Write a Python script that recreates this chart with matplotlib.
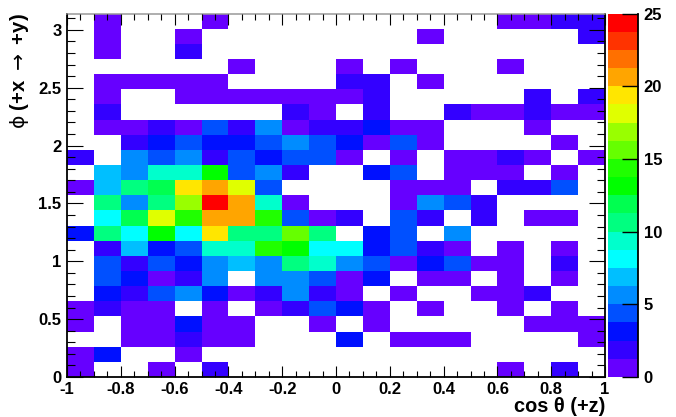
import numpy as np
import matplotlib
matplotlib.use("Agg")
import matplotlib.pyplot as plt
from matplotlib.colors import BoundaryNorm, ListedColormap
from matplotlib.ticker import MultipleLocator

plt.rcParams["font.family"] = ["Liberation Sans", "DejaVu Sans"]
plt.rcParams["mathtext.fontset"] = "dejavusans"

# bin edges of the histogram
x_edges = np.linspace(-1, 1, 21)
y_edges = np.linspace(0, np.pi, 25)

# counts per bin, first list is the top row of the picture
counts = [
    [0, 1, 0, 0, 0, 1, 0, 0, 0, 0, 0, 0, 0, 0, 0, 0, 1, 1, 2, 2],
    [0, 1, 0, 0, 1, 0, 0, 0, 0, 0, 0, 0, 0, 1, 0, 0, 0, 0, 0, 2],
    [0, 1, 0, 0, 2, 0, 0, 0, 0, 0, 0, 0, 0, 0, 0, 0, 0, 0, 0, 0],
    [0, 0, 0, 0, 0, 0, 1, 0, 0, 0, 1, 0, 1, 0, 0, 0, 1, 0, 0, 0],
    [0, 1, 1, 1, 1, 1, 0, 0, 0, 0, 2, 2, 0, 1, 0, 0, 0, 0, 0, 0],
    [0, 1, 0, 0, 1, 1, 1, 1, 1, 1, 1, 2, 0, 0, 0, 0, 0, 2, 0, 2],
    [0, 2, 0, 0, 0, 0, 0, 0, 2, 1, 0, 2, 0, 0, 2, 1, 1, 2, 1, 1],
    [0, 1, 1, 2, 1, 4, 2, 5, 1, 2, 2, 3, 1, 1, 0, 0, 0, 1, 0, 0],
    [0, 0, 2, 3, 4, 3, 3, 4, 5, 4, 3, 1, 4, 1, 0, 0, 0, 0, 1, 0],
    [2, 0, 5, 4, 5, 2, 4, 3, 4, 4, 1, 0, 1, 0, 1, 1, 2, 1, 0, 1],
    [0, 7, 5, 9, 9, 13, 4, 5, 2, 0, 0, 3, 4, 0, 1, 1, 1, 0, 1, 0],
    [1, 7, 10, 12, 19, 20, 18, 4, 0, 0, 0, 0, 1, 1, 1, 0, 2, 2, 4, 0],
    [0, 10, 5, 10, 17, 24, 20, 9, 1, 0, 0, 0, 1, 5, 4, 2, 0, 0, 0, 0],
    [0, 8, 12, 18, 14, 20, 20, 14, 4, 1, 2, 0, 4, 2, 0, 2, 0, 1, 1, 0],
    [3, 10, 8, 13, 8, 19, 10, 10, 15, 10, 0, 3, 4, 0, 5, 0, 0, 0, 0, 0],
    [0, 2, 7, 3, 4, 9, 9, 14, 13, 8, 8, 3, 4, 2, 1, 0, 1, 0, 1, 0],
    [0, 4, 2, 4, 3, 5, 7, 5, 10, 9, 5, 4, 1, 3, 4, 1, 1, 0, 2, 0],
    [0, 4, 3, 1, 2, 5, 0, 5, 5, 4, 1, 3, 0, 1, 1, 0, 1, 0, 1, 0],
    [0, 3, 2, 4, 5, 3, 1, 2, 5, 2, 1, 0, 1, 0, 0, 1, 1, 2, 0, 0],
    [1, 2, 1, 1, 0, 1, 0, 1, 2, 4, 3, 1, 0, 1, 0, 0, 1, 0, 1, 0],
    [1, 0, 1, 1, 3, 1, 1, 0, 0, 1, 0, 1, 0, 0, 0, 0, 0, 1, 1, 1],
    [0, 0, 1, 1, 2, 1, 1, 0, 0, 0, 3, 0, 1, 1, 1, 0, 0, 0, 0, 1],
    [1, 3, 0, 0, 1, 0, 0, 0, 0, 0, 0, 0, 0, 0, 0, 0, 0, 0, 0, 0],
    [1, 0, 0, 1, 0, 2, 0, 0, 0, 0, 0, 0, 0, 0, 0, 0, 1, 0, 2, 0],
]

# palette bands, bottom to top of the colour bar
palette = [
    "#6600ff", "#3300ff", "#0010ff", "#0050ff", "#008cff",
    "#00bfff", "#00ffff", "#00ffcc", "#00ff80", "#00ff50",
    "#00ff00", "#20ff00", "#66ff00", "#99ff00", "#e0ff00",
    "#ffe600", "#ffa500", "#ff7000", "#ff3300", "#ff0000",
]
levels = np.linspace(0, 25, 21)

x_ticks = [-1, -0.8, -0.6, -0.4, -0.2, 0, 0.2, 0.4, 0.6, 0.8, 1]
x_labels = ["-1", "-0.8", "-0.6", "-0.4", "-0.2", "0", "0.2", "0.4", "0.6", "0.8", "1"]
y_ticks = [0, 0.5, 1, 1.5, 2, 2.5, 3]
y_labels = ["0", "0.5", "1", "1.5", "2", "2.5", "3"]
bar_ticks = [0, 5, 10, 15, 20, 25]

W, H = 676, 417
fig = plt.figure(figsize=(W / 100, H / 100), dpi=100)
ax = fig.add_axes([67 / W, 1 - 377 / H, 538 / W, 363.5 / H])
cax = fig.add_axes([608 / W, 1 - 377 / H, 30 / W, 363.5 / H])

grid = np.ma.masked_equal(np.array(counts[::-1], dtype=float), 0)
cmap = ListedColormap(palette)
norm = BoundaryNorm(levels, cmap.N)
mesh = ax.pcolormesh(x_edges, y_edges, grid, cmap=cmap, norm=norm)

ax.set_xlim(-1, 1)
ax.set_ylim(0, np.pi)
ax.set_axisbelow(False)

ax.set_xticks(x_ticks, x_labels)
ax.set_yticks(y_ticks, y_labels)
ax.xaxis.set_minor_locator(MultipleLocator(0.05))
ax.yaxis.set_minor_locator(MultipleLocator(0.1))

ax.tick_params(axis="x", which="major", direction="in", top=True, length=8,
               width=0.8, pad=3.5, labelsize=12)
ax.tick_params(axis="x", which="minor", direction="in", top=True, length=4, width=0.8)
ax.tick_params(axis="y", which="major", direction="in", right=True, length=11.5,
               width=0.8, pad=4, labelsize=12)
ax.tick_params(axis="y", which="minor", direction="in", right=True, length=5.8, width=0.8)

for label in ax.get_xticklabels() + ax.get_yticklabels():
    label.set_fontweight("bold")

for side in ["left", "bottom", "right"]:
    ax.spines[side].set_linewidth(1.3)
ax.spines["top"].set_color("#999999")
ax.spines["top"].set_linewidth(1.1)

fig.text(605 / W, 1 - 412.5 / H, "cos θ (+z)", ha="right", va="baseline",
         fontsize=14.4, fontweight="bold")
fig.text(31 / W, 1 - 13 / H, r"$\mathrm{\phi}$ (+x $\mathrm{\rightarrow}$ +y)", ha="right",
         va="top", rotation=90, fontsize=14.6, fontweight="bold")

bar = fig.colorbar(mesh, cax=cax, ticks=bar_ticks, spacing="proportional")
bar.outline.set_visible(False)
bar.ax.minorticks_off()
cax.spines["right"].set_visible(True)
cax.spines["right"].set_linewidth(1.3)
cax.tick_params(axis="y", direction="in", length=11.5, width=1.0, pad=4, labelsize=12)
for label in cax.get_yticklabels():
    label.set_fontweight("bold")

fig.savefig("out.png", dpi=100)
plt.close(fig)
